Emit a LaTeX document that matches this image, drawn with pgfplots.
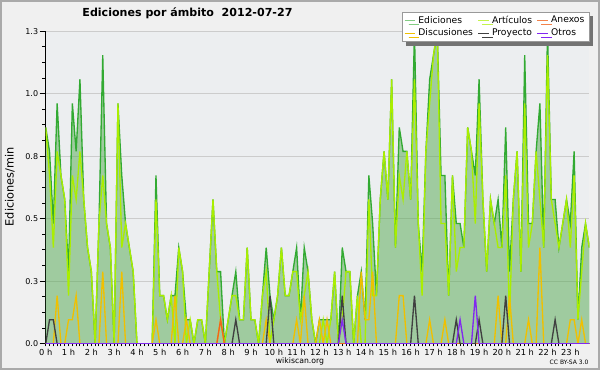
\documentclass[border=0pt]{standalone}
\usepackage{pgfplots}
\pgfplotsset{compat=1.18}
\usepackage{pgfplotstable}
\usepackage{fontspec}
\setmainfont{DejaVu Sans}
\usetikzlibrary{shadows}
\definecolor{bgc}{RGB}{240,240,240}
\definecolor{plotbg}{RGB}{236,238,240}
\definecolor{framec}{RGB}{170,170,170}
\definecolor{gridc}{RGB}{204,204,204}
\definecolor{edfill}{RGB}{83,170,80}
\definecolor{edline}{RGB}{50,170,50}
\definecolor{art}{RGB}{170,238,0}
\definecolor{disc}{RGB}{240,192,0}
\definecolor{proy}{RGB}{64,64,64}
\definecolor{anex}{RGB}{240,100,30}
\definecolor{otros}{RGB}{130,40,240}
\pgfplotstableread{
i E A D P X O
0 0.9 0.9 0 0 0 0
1 0.8 0.7 0 0.1 0 0
2 0.5 0.4 0 0.1 0 0
3 1.0 0.8 0.2 0 0 0
4 0.7 0.7 0 0 0 0
5 0.6 0.6 0 0 0 0
6 0.3 0.2 0.1 0 0 0
7 1.0 0.7 0.1 0 0 0
8 0.8 0.6 0.2 0 0 0
9 1.1 0.8 0 0 0 0
10 0.6 0.6 0 0 0 0
11 0.4 0.4 0 0 0 0
12 0.3 0.3 0 0 0 0
13 0.0 0.0 0 0 0 0
14 0.5 0.5 0 0 0 0
15 1.2 0.7 0.3 0 0 0
16 0.5 0.5 0 0 0 0
17 0.4 0.4 0 0 0 0
18 0.0 0.0 0 0 0 0
19 1.0 1.0 0 0 0 0
20 0.7 0.4 0.3 0 0 0
21 0.5 0.5 0 0 0 0
22 0.4 0.4 0 0 0 0
23 0.3 0.3 0 0 0 0
24 0 0 0 0 0 0
25 0 0 0 0 0 0
26 0 0 0 0 0 0
27 0 0 0 0 0 0
28 0 0 0 0 0 0
29 0.7 0.6 0.1 0 0 0
30 0.2 0.2 0 0 0 0
31 0.2 0.2 0 0 0 0
32 0.1 0.1 0 0 0 0
33 0.2 0.2 0 0 0 0
34 0.2 0.0 0.2 0 0 0
35 0.4 0.4 0 0 0 0
36 0.3 0.3 0 0 0 0
37 0.1 0.0 0.1 0 0 0
38 0.1 0.1 0 0 0 0
39 0 0 0 0 0 0
40 0.1 0.1 0 0 0 0
41 0.1 0.1 0 0 0 0
42 0 0 0 0 0 0
43 0.3 0.3 0 0 0 0
44 0.6 0.6 0 0 0 0
45 0.3 0.3 0 0 0 0
46 0.3 0.1 0.1 0 0.1 0
47 0 0 0 0 0 0
48 0.1 0.1 0 0 0 0
49 0.2 0.2 0 0 0 0
50 0.3 0.2 0 0.1 0 0
51 0.1 0.1 0 0 0 0
52 0.1 0.1 0 0 0 0
53 0.4 0.4 0 0 0 0
54 0.1 0.1 0 0 0 0
55 0.1 0.1 0 0 0 0
56 0 0 0 0 0 0
57 0.2 0.2 0 0 0 0
58 0.4 0.3 0.1 0 0 0
59 0.2 0 0 0.2 0 0
60 0.1 0.1 0 0 0 0
61 0.2 0.2 0 0 0 0
62 0.4 0.4 0 0 0 0
63 0.2 0.2 0 0 0 0
64 0.2 0.2 0 0 0 0
65 0.3 0.3 0 0 0 0
66 0.4 0.3 0.1 0 0 0
67 0.1 0.1 0 0 0 0
68 0.4 0.2 0.2 0 0 0
69 0.3 0.3 0 0 0 0
70 0.1 0.1 0 0 0 0
71 0 0 0 0 0 0
72 0.1 0 0.1 0 0 0
73 0.1 0.1 0 0 0 0
74 0.1 0 0.1 0 0 0
75 0.1 0.1 0 0 0 0
76 0.3 0.3 0 0 0 0
77 0 0 0 0 0 0
78 0.4 0.1 0 0.2 0 0.1
79 0.3 0.3 0 0 0 0
80 0.3 0.3 0 0 0 0
81 0 0 0 0 0 0
82 0.2 0.2 0 0 0 0
83 0.3 0 0.3 0 0 0
84 0.1 0 0.1 0 0 0
85 0.7 0.6 0.1 0 0 0
86 0.5 0.2 0.3 0 0 0
87 0.2 0.2 0 0 0 0
88 0.6 0.6 0 0 0 0
89 0.8 0.8 0 0 0 0
90 0.6 0.6 0 0 0 0
91 1.1 1.1 0 0 0 0
92 0.4 0.4 0 0 0 0
93 0.9 0.7 0.2 0 0 0
94 0.8 0.6 0.2 0 0 0
95 0.8 0.8 0 0 0 0
96 0.6 0.6 0 0 0 0
97 1.3 1.1 0 0.2 0 0
98 0.5 0.5 0 0 0 0
99 0.3 0.2 0 0 0 0
100 0.8 0.8 0 0 0 0
101 1.1 1.0 0.1 0 0 0
102 1.2 1.2 0 0 0 0
103 1.3 1.3 0 0 0 0
104 0.7 0.5 0 0 0 0
105 0.7 0.5 0.1 0 0 0
106 0.2 0.2 0 0 0 0
107 0.7 0.7 0 0 0 0
108 0.5 0.3 0 0.1 0 0
109 0.5 0.4 0 0 0 0.1
110 0.4 0.4 0 0 0 0
111 0.9 0.9 0 0 0 0
112 0.8 0.8 0 0 0 0
113 0.7 0.5 0 0 0 0.2
114 1.1 1.0 0 0.1 0 0
115 0.6 0.6 0 0 0 0
116 0.3 0.3 0 0 0 0
117 0.6 0.6 0 0 0 0
118 0.5 0.5 0 0 0 0
119 0.6 0.4 0.2 0 0 0
120 0.4 0.4 0 0 0 0
121 0.9 0.7 0 0.2 0 0
122 0.3 0.1 0.2 0 0 0
123 0.6 0.6 0 0 0 0
124 0.8 0.8 0 0 0 0
125 0.3 0.3 0 0 0 0
126 1.2 1.0 0 0 0 0
127 0.5 0.4 0.1 0 0 0
128 0.5 0.5 0 0 0 0
129 0.8 0.8 0 0 0 0
130 1.0 0.6 0.4 0 0 0
131 0.4 0.4 0 0 0 0
132 1.3 1.2 0 0 0 0
133 0.6 0.6 0 0 0 0
134 0.6 0.5 0 0.1 0 0
135 0.4 0.4 0 0 0 0
136 0.5 0.5 0 0 0 0
137 0.6 0.6 0 0 0 0
138 0.5 0.4 0.1 0 0 0
139 0.8 0.7 0.1 0 0 0
140 0.1 0.1 0 0 0 0
141 0.4 0.3 0.1 0 0 0
142 0.5 0.5 0 0 0 0
143 0.4 0.4 0 0 0 0
}\data
\begin{document}
\begin{tikzpicture}[x=1pt,y=1pt]
\fill[bgc] (0,0) rectangle (450,277.5);
\draw[framec, line width=1.5pt] (0.75,0.75) rectangle (449.25,276.75);
\begin{axis}[
  at={(34.3pt,19.7pt)}, anchor=south west,
  scale only axis, width=407.7pt, height=234.4pt,
  xmin=0, xmax=143, ymin=0, ymax=1.3,
  axis background/.style={fill=plotbg},
  axis x line*=bottom, axis y line*=left,
  axis line style={black, line width=1pt, -},
  xtick={0,6,...,138},
  xticklabels={0 h,1 h,2 h,3 h,4 h,5 h,6 h,7 h,8 h,9 h,10 h,11 h,12 h,13 h,14 h,15 h,16 h,17 h,18 h,19 h,20 h,21 h,22 h,23 h},
  minor x tick num=5,
  ytick={0,0.26,0.52,0.78,1.04,1.3},
  yticklabels={0.0,0.3,0.5,0.8,1.0,1.3},
  minor y tick num=3,
  tick align=outside,
  xtick style={black, line width=0.75pt},
  ytick style={black, line width=0.75pt},
  major tick length=4.5pt, minor tick length=2.5pt,
  x tick style={/pgfplots/major tick length=2pt, /pgfplots/minor tick length=2pt},
  ymajorgrids, major grid style={gridc, line width=0.75pt},
  xticklabel style={font=\fontsize{6.2}{7}\selectfont, inner sep=0.5pt, yshift=0.8pt},
  yticklabel style={font=\fontsize{6}{7}\selectfont, inner sep=1pt},
  legend columns=3, legend cell align=left,
  legend style={at={(rel axis cs:1,1.0624)}, anchor=north east, draw=gray!80, fill=white,
    font=\fontsize{6.9}{7}\selectfont, inner xsep=1.5pt, inner ysep=1pt, row sep=-1.5pt,
    drop shadow={shadow xshift=3pt, shadow yshift=-3pt, fill=black!55, opacity=1},
    /tikz/every even column/.append style={column sep=1.5pt}},
  legend image code/.code={\draw[#1] (0pt,0pt) -- (8pt,0pt);},
]
\addplot[draw=none, fill=edfill, fill opacity=0.5, forget plot] table[x=i,y=E] {\data} \closedcycle;
\addplot[edline, line width=1pt, forget plot] table[x=i,y=E] {\data};
\addplot[art, line width=1pt, forget plot] table[x=i,y=A] {\data};
\addplot[disc, line width=1pt, forget plot] table[x=i,y=D] {\data};
\addplot[anex, line width=1pt, forget plot] table[x=i,y=X] {\data};
\addplot[proy, line width=1pt, forget plot] table[x=i,y=P] {\data};
\addplot[otros, line width=1pt, forget plot] table[x=i,y=O] {\data};
\addlegendimage{edline!60, line width=0.8pt}
\addlegendentry{Ediciones}
\addlegendimage{art!70, line width=0.8pt}
\addlegendentry{Artículos}
\addlegendimage{anex!80, line width=0.8pt}
\addlegendentry{Anexos}
\addlegendimage{disc, line width=0.8pt}
\addlegendentry{Discusiones}
\addlegendimage{proy, line width=0.8pt}
\addlegendentry{Proyecto}
\addlegendimage{otros, line width=0.8pt}
\addlegendentry{Otros}
\end{axis}
\node[font=\bfseries\fontsize{8.3}{10}\selectfont] at (140.6,267.6) {Ediciones por ámbito\ \ 2012-07-27};
\node[rotate=90, font=\fontsize{8.5}{9}\selectfont] at (7.4,137.5) {Ediciones/min};
\node[font=\fontsize{5.8}{7}\selectfont] at (225,6.2) {wikiscan.org};
\node[font=\fontsize{4.5}{5}\selectfont] at (426.8,5.6) {CC BY-SA 3.0};
\pgfresetboundingbox
\useasboundingbox (0,0) rectangle (450,277.5);
\end{tikzpicture}
\end{document}
